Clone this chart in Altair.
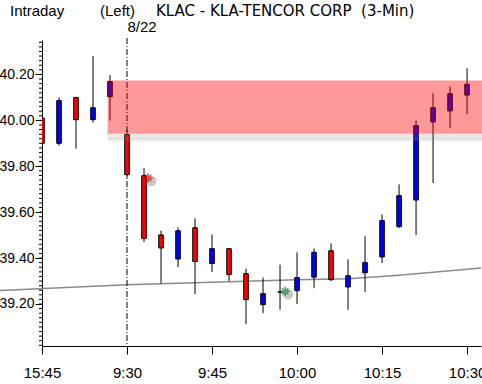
import altair as alt
import pandas as pd
import numpy as np

# ---- data ----
bar_idx = list(range(26))
opens  = [40.010, 39.900, 40.100, 40.003, 40.103, 39.938, 39.759, 39.501, 39.396, 39.532,
          39.376, 39.441, 39.332, 39.197, 39.252, 39.258, 39.317, 39.432, 39.274, 39.336,
          39.405, 39.537, 39.653, 39.993, 40.041, 40.110]
highs  = [40.020, 40.100, 40.100, 40.280, 40.197, 39.960, 39.792, 39.520, 39.534, 39.573,
          39.503, 39.441, 39.354, 39.315, 39.371, 39.425, 39.442, 39.464, 39.394, 39.495,
          39.590, 39.721, 40.000, 40.118, 40.148, 40.227]
lows   = [39.850, 39.890, 39.877, 39.990, 39.999, 39.750, 39.470, 39.289, 39.361, 39.243,
          39.339, 39.300, 39.112, 39.160, 39.175, 39.200, 39.269, 39.300, 39.175, 39.252,
          39.378, 39.531, 39.500, 39.727, 39.966, 40.027]
closes = [39.900, 40.086, 40.003, 40.055, 40.169, 39.764, 39.485, 39.444, 39.519, 39.385,
          39.441, 39.328, 39.219, 39.245, 39.252, 39.315, 39.425, 39.306, 39.323, 39.381,
          39.563, 39.672, 39.977, 40.055, 40.116, 40.157]

tick_idx = [0, 5, 10, 15, 20, 25]
tick_lab = ["15:45", "9:30", "9:45", "10:00", "10:15", "10:30"]
y_major = [39.20, 39.40, 39.60, 39.80, 40.00, 40.20]

ma_idx = [-2.47, 5, 10, 15, 18, 21, 25.82]
ma_val = [39.259, 39.284, 39.295, 39.306, 39.310, 39.325, 39.357]

band_lo, band_hi = 39.942, 40.174
band_x0, band_x1 = 3.86, 25.9

sig_idx = [6.25, 14.3]
sig_val = [39.749, 39.255]
sig_kind = ["sell", "buy"]

session_idx = 5
session_label = "8/22"
title_parts = ["Intraday", "(Left)", "KLAC - KLA-TENCOR CORP\u00a0\u00a0(3-Min)"]

# ---- tables ----
df = pd.DataFrame(dict(i=bar_idx, o=opens, h=highs, l=lows, c=closes))
df["up"] = np.where(df.c >= df.o, "up", "down")
df["top"] = df[["o", "c"]].max(axis=1)
df["bot"] = df[["o", "c"]].min(axis=1)

ma = pd.DataFrame(dict(i=ma_idx, v=ma_val))
band = pd.DataFrame(dict(x0=[band_x0], x1=[band_x1], lo=[band_lo], hi=[band_hi]))
sig = pd.DataFrame(dict(i=sig_idx, v=sig_val, k=sig_kind))
minor = pd.DataFrame(dict(v=np.round(np.arange(39.02, 40.35, 0.02), 2)))
one = pd.DataFrame(dict(i=[session_idx]))

FONT = "Liberation Sans"
W, H = 439, 306
XDOM = [0, 25.82]
YDOM = [39.017, 40.35]
HALF = 0.135  # half body width in bar units

xscale = alt.Scale(domain=XDOM, nice=False, zero=False)
yscale = alt.Scale(domain=YDOM, nice=False, zero=False)

lab_arr = "[" + ",".join("'%s'" % t for t in tick_lab) + "]"
xaxis = alt.Axis(values=tick_idx, labelExpr=lab_arr + "[round(datum.value/5)]",
                 grid=False, tickSize=8, tickColor="black", domainColor="black",
                 labelFont=FONT, labelFontSize=15, labelColor="black", labelPadding=11,
                 labelFlush=False, title=None, labelBound=False)
yaxis = alt.Axis(values=y_major, format=".2f", grid=False, tickSize=7, tickColor="black",
                 domainColor="black", labelFont=FONT, labelFontSize=14, labelColor="black",
                 labelPadding=1, title=None, labelBound=False)

def X(f):
    return alt.X(f, scale=xscale, axis=xaxis)

def Y(f):
    return alt.Y(f, scale=yscale, axis=yaxis)

ma_line = alt.Chart(ma).mark_line(color="#8a8a8a", strokeWidth=1.5, clip=False).encode(
    x=X("i:Q"), y=Y("v:Q"))

session = alt.Chart(one).mark_rule(color="black", strokeWidth=1, strokeDash=[6, 2, 1, 2]).encode(
    x=X("i:Q"), y=alt.value(-2), y2=alt.value(H))

wicks = alt.Chart(df).mark_rule(color="black", strokeWidth=1, clip=True).encode(
    x=X("i:Q"), y=Y("l:Q"), y2="h:Q")

bodies = alt.Chart(df).transform_calculate(
    xa="datum.i - %f" % HALF, xb="datum.i + %f" % HALF
).mark_rect(stroke="black", strokeWidth=1, clip=True).encode(
    x=X("xa:Q"), x2="xb:Q", y=Y("bot:Q"), y2="top:Q",
    color=alt.Color("up:N", scale=alt.Scale(domain=["up", "down"], range=["#0000ff", "#ff0000"]),
                    legend=None))

shadow_a = alt.Chart(band).mark_rect(color="#888888", opacity=0.18, clip=False, yOffset=3, height=6).encode(
    x=X("x0:Q"), x2="x1:Q", y=Y("lo:Q"))
shadow_b = alt.Chart(band).mark_rect(color="#888888", opacity=0.12, clip=False, yOffset=6, height=4).encode(
    x=X("x0:Q"), x2="x1:Q", y=Y("lo:Q"))

band_rect = alt.Chart(band).mark_rect(color="#ff0000", opacity=0.4, clip=False).encode(
    x=X("x0:Q"), x2="x1:Q", y=Y("lo:Q"), y2="hi:Q")

star_path = ("M0,-1L0.22,-0.38L0.7,-0.7L0.38,-0.22L1,0L0.38,0.22L0.7,0.7L0.22,0.38"
             "L0,1L-0.22,0.38L-0.7,0.7L-0.38,0.22L-1,0L-0.38,-0.22L-0.7,-0.7L-0.22,-0.38Z")

sig_shadow = alt.Chart(sig).mark_circle(color="#666666", opacity=0.35, size=110, xOffset=3, yOffset=3).encode(
    x=X("i:Q"), y=Y("v:Q"))
sig_star = alt.Chart(sig).mark_point(shape=star_path, filled=True, size=90, strokeWidth=0.6).encode(
    x=X("i:Q"), y=Y("v:Q"),
    color=alt.Color("k:N", scale=alt.Scale(domain=["sell", "buy"], range=["#ff1a1a", "#129a4a"]), legend=None),
    stroke=alt.Stroke("k:N", scale=alt.Scale(domain=["sell", "buy"], range=["#800000", "#064d25"]), legend=None))

minor_ticks = alt.Chart(minor).mark_rule(color="black", strokeWidth=1).encode(
    y=Y("v:Q"), x=alt.value(-3), x2=alt.value(0))

session_txt = alt.Chart(one).mark_text(text=session_label, font=FONT, fontSize=15, align="center",
                                       baseline="alphabetic", dx=15, color="black").encode(
    x=X("i:Q"), y=alt.value(-8))

t1 = alt.Chart(one).mark_text(text=title_parts[0], font=FONT, fontSize=15, align="left",
                              baseline="alphabetic", color="black").encode(x=alt.value(-32), y=alt.value(-24))
t2 = alt.Chart(one).mark_text(text=title_parts[1], font=FONT, fontSize=15, align="left",
                              baseline="alphabetic", color="black").encode(x=alt.value(58), y=alt.value(-24))
t3 = alt.Chart(one).mark_text(text=title_parts[2], font="DejaVu Sans", fontSize=15, align="left",
                              baseline="alphabetic", color="black").encode(x=alt.value(114), y=alt.value(-24))

chart = alt.layer(
    ma_line, session, wicks, bodies, shadow_a, shadow_b, band_rect, sig_shadow, sig_star,
    minor_ticks, session_txt, t1, t2, t3
).resolve_scale(color="independent", stroke="independent").properties(
    width=W, height=H,
    padding={"left": 42, "top": 40, "right": 1, "bottom": 38},
    autosize=alt.AutoSizeParams(type="none"),
    background="white",
).configure_view(stroke=None)

chart.save("out.html", embed_options={"renderer": "svg", "actions": False})
